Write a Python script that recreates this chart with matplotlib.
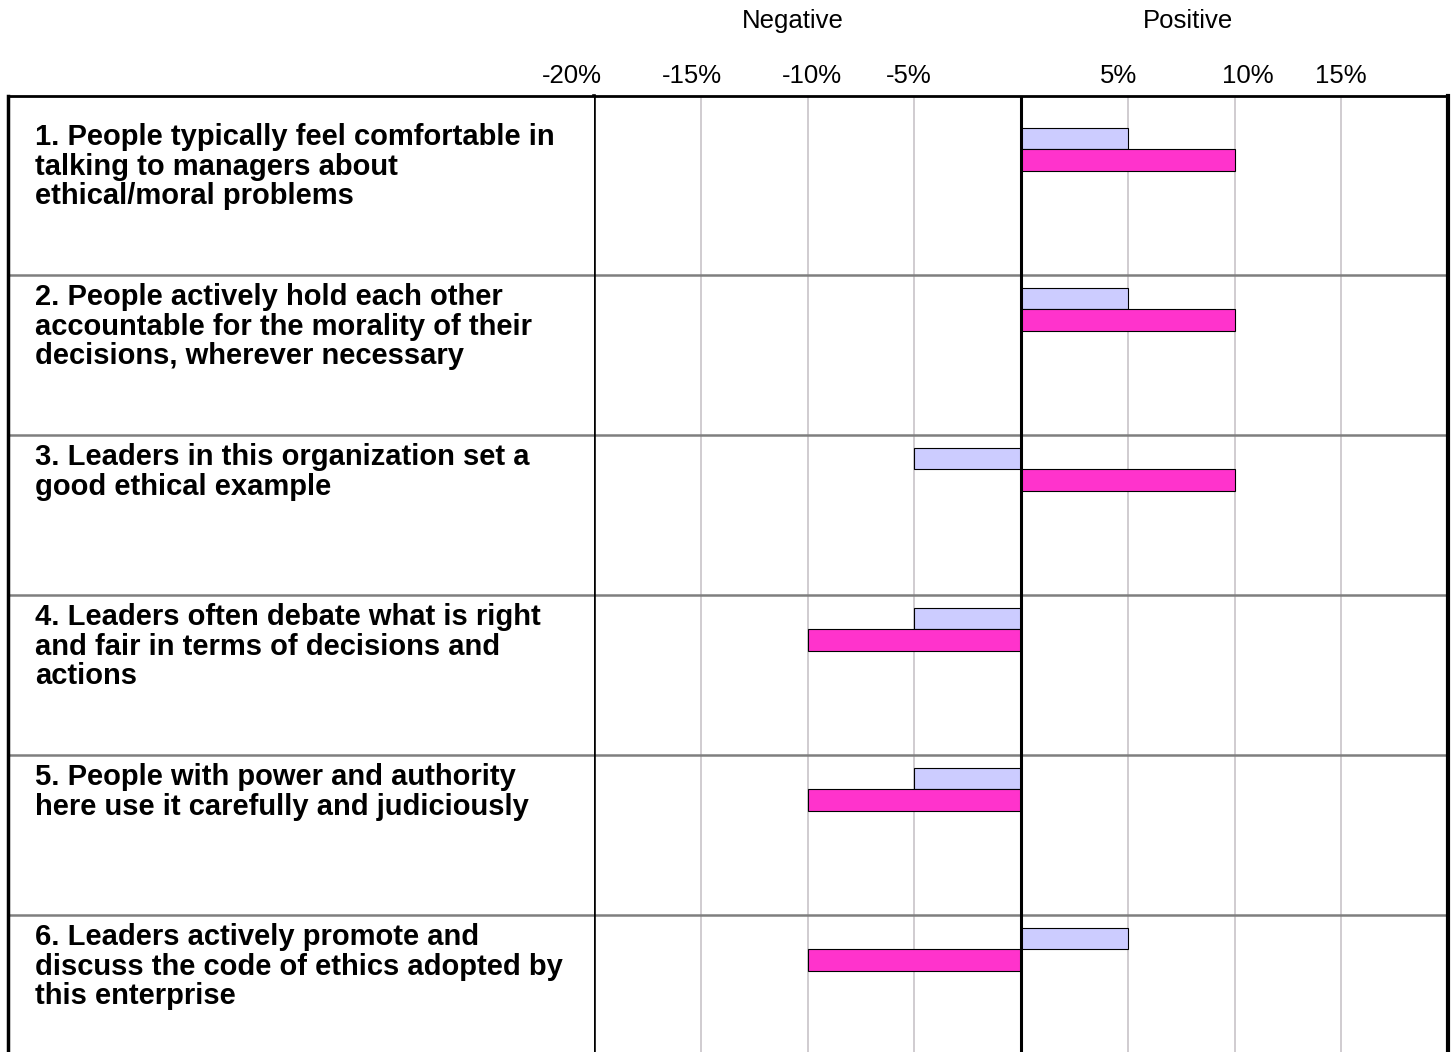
import matplotlib.pyplot as plt
from matplotlib.transforms import ScaledTranslation, blended_transform_factory

plt.rcParams['font.family'] = ['Liberation Sans', 'DejaVu Sans']

# --- Dati ---
domande = [
    "1. People typically feel comfortable in\ntalking to managers about\nethical/moral problems",
    "2. People actively hold each other\naccountable for the morality of their\ndecisions, wherever necessary",
    "3. Leaders in this organization set a\ngood ethical example",
    "4. Leaders often debate what is right\nand fair in terms of decisions and\nactions",
    "5. People with power and authority\nhere use it carefully and judiciously",
    "6. Leaders actively promote and\ndiscuss the code of ethics adopted by\nthis enterprise",
]
serie_a = [5, 5, -5, -5, -5, 5]        # barra chiara
serie_b = [10, 10, 10, -10, -10, -10]  # barra rosa
tick_val = [-20, -15, -10, -5, 5, 10, 15]
tick_lab = ['-20%', '-15%', '-10%', '-5%', '5%', '10%', '15%']

# --- Layout (pixel) ---
W, H = 1452, 1052
top = 96
sx_lab, sx_plot, dx_plot = 8, 594, 1448
riga_px = 160
riga0 = 115
nudge_px = [-22, -9, 4, -6, -9, 13, 0]   # spostamento orizzontale delle etichette

fig = plt.figure(figsize=(W / 100, H / 100), dpi=100)
ax = fig.add_axes([sx_plot / W, 0, (dx_plot - sx_plot) / W, 1 - top / H])
lab = fig.add_axes([sx_lab / W, 0, (sx_plot - sx_lab) / W, 1 - top / H], sharey=ax)

ax.set_xlim(-20, 20)
ax.set_ylim((H - riga0) / riga_px, (top - riga0) / riga_px)

n = len(domande)
h_bar = 0.134
ya = [i + 0.148 for i in range(n)]
yb = [i + 0.282 for i in range(n)]
ax.barh(ya, serie_a, height=h_bar, color='#ccccff', edgecolor='black', linewidth=0.8, zorder=3)
ax.barh(yb, serie_b, height=h_bar, color='#ff33cc', edgecolor='black', linewidth=0.8, zorder=3)

# griglia verticale e linea dello zero
ax.set_xticks(tick_val)
ax.xaxis.grid(True, color='#c8c3c8', linewidth=1.2, zorder=1)
ax.set_axisbelow(True)
ax.axvline(0, color='black', linewidth=2.2, zorder=5)

# separatori tra le righe
for k in range(1, n):
    ax.axhline(k, color='#7f7f7f', linewidth=1.8, zorder=2)
    lab.axhline(k, color='#7f7f7f', linewidth=1.8, zorder=2)

# etichette asse x in alto
ax.xaxis.tick_top()
ax.set_xticklabels(tick_lab, fontsize=18.5)
ax.tick_params(axis='x', length=0, pad=5.5)
for t, dx in zip(ax.get_xticklabels(), nudge_px):
    t.set_transform(t.get_transform() + ScaledTranslation(dx / 100, 0, fig.dpi_scale_trans))
ax.set_yticks([])

tr = blended_transform_factory(ax.transData, fig.transFigure)
ax.text(-10.7, 1 - 28.3 / H, 'Negative', transform=tr, ha='center', va='baseline', fontsize=18.5)
ax.text(7.8, 1 - 28.3 / H, 'Positive', transform=tr, ha='center', va='baseline', fontsize=18.5)

# testo delle domande
trl = blended_transform_factory(lab.transAxes, lab.transData)
for i, d in enumerate(domande):
    lab.text((35 - sx_lab) / (sx_plot - sx_lab), i + 0.052, d, transform=trl,
             ha='left', va='top', fontsize=21, fontweight='bold', linespacing=1.07)
lab.set_xticks([])
lab.tick_params(axis='y', length=0, labelleft=False)

# bordi
for a in (ax, lab):
    a.spines['bottom'].set_visible(False)
    a.spines['top'].set_linewidth(2)
    a.spines['top'].set_color('black')
ax.spines['left'].set_linewidth(2.6)
ax.spines['right'].set_linewidth(3)
lab.spines['left'].set_linewidth(2.5)
lab.spines['right'].set_visible(False)

fig.savefig('out.png', dpi=100)
